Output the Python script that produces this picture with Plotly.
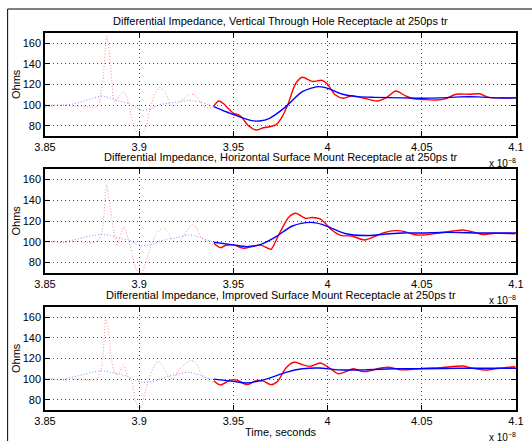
import plotly.graph_objects as go

# ---------------- data (time in units of 1e-8 s, impedance in Ohms) ----------------
titles = [
    "Differential Impedance, Vertical Through Hole Receptacle at 250ps tr",
    "Differential Impedance, Horizontal Surface Mount Receptacle at 250ps tr",
    "Differential Impedance, Improved Surface Mount Receptacle at 250ps tr",
]
x_tick_vals = [3.85, 3.9, 3.95, 4.0, 4.05, 4.1]
x_tick_text = ["3.85", "3.9", "3.95", "4", "4.05", "4.1"]
y_tick_vals = [80, 100, 120, 140, 160]

# Panel 1 - Vertical Through Hole
p1_red_dot_t = [3.850, 3.855, 3.860, 3.865, 3.870, 3.875, 3.8785, 3.8796, 3.881, 3.8822, 3.8828, 3.884, 3.8849, 3.8856, 3.8862, 3.8873, 3.8891, 3.8918, 3.8935, 3.8961, 3.8979, 3.8995, 3.9012, 3.903, 3.9057, 3.9083, 3.911, 3.9135, 3.9161, 3.918, 3.9205, 3.924, 3.9266, 3.9292, 3.9318, 3.9344, 3.937, 3.9396]
p1_red_dot_v = [98, 99, 100, 99, 99, 98, 100, 110, 128, 160, 167, 153, 137, 121, 108, 103, 108, 113, 108, 87, 76, 72, 72, 76, 95, 111, 117, 113, 103, 98, 102, 106.6, 110.5, 110, 105, 98.5, 97, 98.5]
p1_blue_dot_t = [3.850, 3.855, 3.860, 3.8648, 3.870, 3.8752, 3.8804, 3.8848, 3.8891, 3.8944, 3.8979, 3.9013, 3.9057, 3.910, 3.9152, 3.9205, 3.9257, 3.9292, 3.9326, 3.9361, 3.9396]
p1_blue_dot_v = [100, 100, 100, 101, 103.5, 106.6, 108.8, 106.6, 104, 101.7, 97.9, 95, 96, 100, 101.7, 103, 104.3, 104, 103, 100.7, 99]
p1_red_t = [3.9396, 3.9422, 3.945, 3.9466, 3.950, 3.952, 3.954, 3.958, 3.9622, 3.966, 3.9692, 3.9727, 3.976, 3.9788, 3.9831, 3.9866, 3.9918, 3.997, 3.9996, 4.004, 4.0083, 4.0127, 4.0196, 4.0266, 4.0318, 4.0362, 4.0414, 4.0457, 4.051, 4.0579, 4.0623, 4.0683, 4.0753, 4.0805, 4.0857, 4.0944, 4.1]
p1_red_v = [99, 104, 101, 98, 92, 91, 89, 80, 75.8, 78, 79, 81, 89, 100, 121, 127, 123, 124, 121, 110, 106.6, 108.8, 106.6, 104, 108, 113.7, 109, 106, 105.5, 105, 106, 110.5, 110.5, 111, 107.5, 107, 107]
p1_blue_t = [3.9396, 3.9483, 3.9596, 3.9639, 3.9692, 3.9779, 3.9866, 3.9952, 4.0005, 4.0075, 4.0161, 4.025, 4.04, 4.05, 4.06, 4.07, 4.08, 4.09, 4.1]
p1_blue_v = [98.5, 92, 84.9, 84.6, 87.2, 98.5, 113, 117.9, 116, 110.8, 108.2, 107.5, 107, 106.6, 107, 108, 108, 107, 107]

# Panel 2 - Horizontal Surface Mount
p2_red_dot_t = [3.850, 3.855, 3.860, 3.865, 3.870, 3.875, 3.878, 3.8804, 3.8827, 3.884, 3.8848, 3.8865, 3.8883, 3.8918, 3.894, 3.8962, 3.8979, 3.9005, 3.903, 3.9065, 3.9091, 3.9126, 3.9152, 3.917, 3.9205, 3.924, 3.9266, 3.9283, 3.930, 3.9326, 3.9361, 3.9387, 3.9396]
p2_red_dot_v = [100, 100, 99, 100, 100, 99, 101, 111, 155, 140, 132, 110, 97, 114.5, 104, 89, 76, 66, 78, 97, 108, 113.6, 110, 102.7, 99.6, 106.6, 114.5, 116.8, 114.5, 105, 100, 97, 98]
p2_blue_dot_t = [3.850, 3.855, 3.860, 3.8648, 3.870, 3.8752, 3.8804, 3.8848, 3.8891, 3.8944, 3.8979, 3.9013, 3.9057, 3.910, 3.9152, 3.9205, 3.9257, 3.9292, 3.9326, 3.9361, 3.9396]
p2_blue_dot_v = [100, 100, 100, 101.6, 104, 106, 107.2, 106, 103.4, 101.6, 98.6, 96.3, 97, 99.6, 102.7, 104, 106.6, 106, 104, 101.6, 100]
p2_red_t = [3.9396, 3.9431, 3.9457, 3.950, 3.9553, 3.960, 3.964, 3.9683, 3.970, 3.9744, 3.9796, 3.9831, 3.9883, 3.9918, 3.9961, 3.9987, 4.0022, 4.0075, 4.0127, 4.0196, 4.0248, 4.030, 4.0362, 4.0405, 4.0457, 4.051, 4.0579, 4.0666, 4.0718, 4.077, 4.0823, 4.0875, 4.0995]
p2_red_v = [98.6, 94.4, 96.4, 97, 93.8, 95.5, 97, 93.8, 92.8, 108, 124, 127.4, 122.6, 123.4, 122, 118, 111.4, 106, 105.6, 101.8, 105, 108.8, 110.7, 110, 107, 106.5, 108.2, 110.4, 111.4, 109.5, 107, 108, 107.8]
p2_blue_t = [3.9396, 3.950, 3.957, 3.9639, 3.9727, 3.9813, 3.9909, 3.997, 4.0022, 4.0092, 4.0196, 4.030, 4.040, 4.050, 4.060, 4.070, 4.080, 4.090, 4.100]
p2_blue_v = [99.6, 97, 95.4, 97, 105, 115.2, 118.7, 116.8, 113, 108, 106, 107.3, 108.5, 108.5, 109, 109, 108.5, 108.5, 108.5]

# Panel 3 - Improved Surface Mount
p3_red_dot_t = [3.850, 3.855, 3.860, 3.865, 3.870, 3.875, 3.878, 3.8804, 3.8822, 3.884, 3.8848, 3.8865, 3.8883, 3.8918, 3.8935, 3.8961, 3.8979, 3.900, 3.9013, 3.904, 3.9074, 3.910, 3.9126, 3.9152, 3.9178, 3.9205, 3.924, 3.9274, 3.930, 3.9326, 3.9361, 3.9387, 3.9396]
p3_red_dot_v = [100, 100, 99, 100, 100, 99, 101, 115, 158.3, 143, 125, 109, 104, 114, 104, 97.8, 80, 70.3, 75, 93, 110.8, 117.3, 112.4, 104, 100, 107.6, 114, 118.2, 116, 106, 99.4, 97, 98]
p3_blue_dot_t = [3.850, 3.855, 3.860, 3.8648, 3.870, 3.8752, 3.8804, 3.8848, 3.8891, 3.8944, 3.8979, 3.9013, 3.9057, 3.910, 3.9152, 3.9205, 3.9257, 3.9292, 3.9326, 3.9361, 3.9396]
p3_blue_dot_v = [100, 100, 100, 102, 104.3, 106.6, 108.2, 106.6, 105, 102, 98.8, 96.9, 97.2, 99.4, 102.7, 105, 106.6, 105.4, 103.5, 101, 99.4]
p3_red_t = [3.9396, 3.9431, 3.9483, 3.952, 3.957, 3.9622, 3.966, 3.970, 3.9735, 3.9779, 3.9822, 3.9866, 3.9909, 3.9961, 4.0005, 4.0057, 4.010, 4.0135, 4.0179, 4.0213, 4.0283, 4.0335, 4.0388, 4.045, 4.051, 4.0596, 4.0718, 4.077, 4.084, 4.0909, 4.0996]
p3_red_v = [98.4, 94.3, 99, 99, 94.6, 98.4, 98, 94.6, 98, 110.8, 116.3, 114, 112.4, 115.6, 111.4, 105.2, 107.6, 110, 107.6, 107.6, 110.8, 111.4, 109, 109.5, 110.5, 111, 112.7, 110.5, 108.8, 110.5, 112]
p3_blue_t = [3.9396, 3.950, 3.957, 3.9674, 3.9779, 3.9866, 3.9952, 4.0057, 4.020, 4.035, 4.051, 4.070, 4.085, 4.100]
p3_blue_v = [100, 97.8, 96.2, 100, 106.6, 110, 110.8, 109, 109, 110, 110, 110.5, 110.5, 110.5]

panels = [
    (p1_red_dot_t, p1_red_dot_v, p1_blue_dot_t, p1_blue_dot_v, p1_red_t, p1_red_v, p1_blue_t, p1_blue_v),
    (p2_red_dot_t, p2_red_dot_v, p2_blue_dot_t, p2_blue_dot_v, p2_red_t, p2_red_v, p2_blue_t, p2_blue_v),
    (p3_red_dot_t, p3_red_dot_v, p3_blue_dot_t, p3_blue_dot_v, p3_red_t, p3_red_v, p3_blue_t, p3_blue_v),
]

# ---------------- layout geometry ----------------
W, H = 532, 441
ML, MR, MT, MB = 45, 8, 33, 31
PW, PH = W - ML - MR, H - MT - MB
panel_px = [(33, 136), (169, 273), (307, 410)]  # top/bottom pixel rows of each axes box


def yp(py):
    return (H - MB - py) / PH


def xp(px):
    return (px - ML) / PW


FONT = "Liberation Sans, Arial, Helvetica, sans-serif"
fig = go.Figure()

for i, (rdt, rdv, bdt, bdv, rt, rv, bt, bv) in enumerate(panels):
    ax = "" if i == 0 else str(i + 1)
    xa, ya = "x" + ax, "y" + ax
    fig.add_trace(go.Scatter(x=rdt, y=rdv, mode="lines", xaxis=xa, yaxis=ya,
                             line=dict(color="rgba(255,40,40,0.55)", width=1, dash="1px,2px", shape="spline", smoothing=0.6),
                             showlegend=False, hoverinfo="skip"))
    fig.add_trace(go.Scatter(x=bdt, y=bdv, mode="lines", xaxis=xa, yaxis=ya,
                             line=dict(color="rgba(40,40,255,0.55)", width=1, dash="1px,2px", shape="spline", smoothing=0.6),
                             showlegend=False, hoverinfo="skip"))
    fig.add_trace(go.Scatter(x=rt, y=rv, mode="lines", xaxis=xa, yaxis=ya,
                             line=dict(color="#ff0000", width=1.4, shape="spline", smoothing=0.8),
                             showlegend=False, hoverinfo="skip"))
    fig.add_trace(go.Scatter(x=bt, y=bv, mode="lines", xaxis=xa, yaxis=ya,
                             line=dict(color="#0000ff", width=1.4, shape="spline", smoothing=0.8),
                             showlegend=False, hoverinfo="skip"))

layout = dict(
    width=W, height=H,
    margin=dict(l=ML, r=MR, t=MT, b=MB, pad=0),
    paper_bgcolor="white", plot_bgcolor="white",
    font=dict(family=FONT, size=11, color="black"),
    showlegend=False,
)

annotations = []
for i, (top, bot) in enumerate(panel_px):
    ax = "" if i == 0 else str(i + 1)
    layout["xaxis" + ax] = dict(
        domain=[0, 1], anchor="y" + ax, range=[3.85, 4.1],
        tickvals=x_tick_vals, ticktext=x_tick_text,
        showgrid=True, gridcolor="rgba(0,0,0,0.7)", griddash="1px,3px", gridwidth=1,
        zeroline=False, showline=True, linecolor="black", linewidth=1.5, mirror="ticks",
        ticks="inside", ticklen=5, tickcolor="black", tickfont=dict(size=11),
    )
    layout["yaxis" + ax] = dict(
        domain=[yp(bot), yp(top)], anchor="x" + ax, range=[70, 170],
        tickvals=y_tick_vals,
        showgrid=True, gridcolor="rgba(0,0,0,0.7)", griddash="1px,3px", gridwidth=1,
        zeroline=False, showline=True, linecolor="black", linewidth=1.5, mirror="ticks",
        ticks="inside", ticklen=5, tickcolor="black", tickfont=dict(size=11),
    )
    # title
    annotations.append(dict(text=titles[i], x=xp(285), y=yp(top - 12), xref="paper", yref="paper",
                            xanchor="center", yanchor="middle", showarrow=False, font=dict(size=11)))
    # Ohms label
    annotations.append(dict(text="Ohms", x=xp(15), y=yp((top + bot) / 2), xref="paper", yref="paper",
                            xanchor="center", yanchor="middle", textangle=-90, showarrow=False,
                            font=dict(size=11)))
    # exponent label
    annotations.append(dict(text="x 10<sup>−8</sup>", x=xp(526), y=yp(bot + 27), xref="paper", yref="paper",
                            xanchor="right", yanchor="middle", showarrow=False, font=dict(size=10)))

annotations.append(dict(text="Time, seconds", x=xp(285), y=yp(432), xref="paper", yref="paper",
                        xanchor="center", yanchor="middle", showarrow=False, font=dict(size=11)))
layout["annotations"] = annotations
layout["shapes"] = [dict(type="rect", xref="paper", yref="paper",
                         x0=xp(7), y0=yp(460), x1=xp(560), y1=yp(9),
                         line=dict(color="black", width=1), fillcolor="rgba(0,0,0,0)", layer="above")]
fig.update_layout(**layout)
fig.write_html("out.html", config={"displayModeBar": False},
               post_script="document.body.style.margin='0';document.body.style.padding='0';document.body.style.overflow='hidden';")
